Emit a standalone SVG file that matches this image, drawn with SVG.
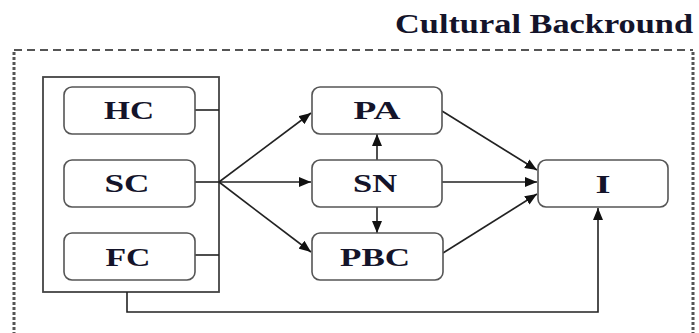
<svg xmlns="http://www.w3.org/2000/svg" width="699" height="333" viewBox="0 0 699 333">
<style>
.box{fill:#fff;stroke:#555;stroke-width:1.6}
.lbl{font-family:"Liberation Serif","Times New Roman",serif;font-weight:bold;font-size:25px;fill:#14142a;text-anchor:middle}
.ln{fill:none;stroke:#222;stroke-width:1.6}
.arr{fill:none;stroke:#222;stroke-width:1.6;marker-end:url(#ah)}
</style>
<defs>
<marker id="ah" markerUnits="userSpaceOnUse" markerWidth="12" markerHeight="10" viewBox="0 0 12 10" refX="12" refY="5" orient="auto">
<path d="M0,0 L12,5 L0,10 Z" fill="#111"/>
</marker>
</defs>
<rect width="699" height="333" fill="#fff"/>
<g id="frame">
<line x1="14" y1="50" x2="693" y2="50" stroke="#555" stroke-width="2" stroke-dasharray="8 5"/>
<line x1="14" y1="52" x2="14" y2="333" stroke="#555" stroke-width="3" stroke-dasharray="3 2"/>
<line x1="693" y1="52" x2="693" y2="333" stroke="#555" stroke-width="3" stroke-dasharray="3 2"/>
<text x="395" y="33" class="lbl" style="text-anchor:start;font-size:27px" textLength="298" lengthAdjust="spacingAndGlyphs">Cultural Backround</text>
</g>
<g id="container">
<rect x="43" y="77" width="176" height="215" fill="none" stroke="#444" stroke-width="1.8"/>
</g>
<g id="connectors">
<line class="ln" x1="195" y1="110" x2="219" y2="110"/>
<line class="ln" x1="195" y1="255" x2="219" y2="255"/>
<line class="ln" x1="195" y1="182" x2="219" y2="182"/>
<line class="arr" x1="219" y1="182" x2="311" y2="113"/>
<line class="arr" x1="219" y1="182" x2="311" y2="182"/>
<line class="arr" x1="219" y1="182" x2="311" y2="252"/>
<line class="arr" x1="377" y1="161" x2="377" y2="134"/>
<line class="arr" x1="377" y1="207" x2="377" y2="233"/>
<line class="arr" x1="442" y1="111" x2="537" y2="170"/>
<line class="arr" x1="442" y1="182" x2="537" y2="182"/>
<line class="arr" x1="443" y1="253" x2="537" y2="194"/>
<polyline class="arr" points="127,292 127,312 598,312 598,208"/>
</g>
<g id="HC"><rect class="box" x="64" y="87" width="131" height="47" rx="8"/><text class="lbl" x="129" y="119" textLength="50" lengthAdjust="spacingAndGlyphs">HC</text></g>
<g id="SC"><rect class="box" x="64" y="160" width="131" height="47" rx="8"/><text class="lbl" x="127" y="192" textLength="45" lengthAdjust="spacingAndGlyphs">SC</text></g>
<g id="FC"><rect class="box" x="64" y="233" width="131" height="47" rx="8"/><text class="lbl" x="128" y="266" textLength="45" lengthAdjust="spacingAndGlyphs">FC</text></g>
<g id="PA"><rect class="box" x="312" y="87" width="130" height="47" rx="8"/><text class="lbl" x="377" y="119" textLength="47" lengthAdjust="spacingAndGlyphs">PA</text></g>
<g id="SN"><rect class="box" x="312" y="160" width="130" height="47" rx="8"/><text class="lbl" x="375" y="192" textLength="44" lengthAdjust="spacingAndGlyphs">SN</text></g>
<g id="PBC"><rect class="box" x="312" y="233" width="131" height="47" rx="8"/><text class="lbl" x="375" y="266" textLength="70" lengthAdjust="spacingAndGlyphs">PBC</text></g>
<g id="I"><rect class="box" x="538" y="160" width="130" height="47" rx="8"/><text class="lbl" x="603" y="193" textLength="15" lengthAdjust="spacingAndGlyphs">I</text></g>
</svg>
